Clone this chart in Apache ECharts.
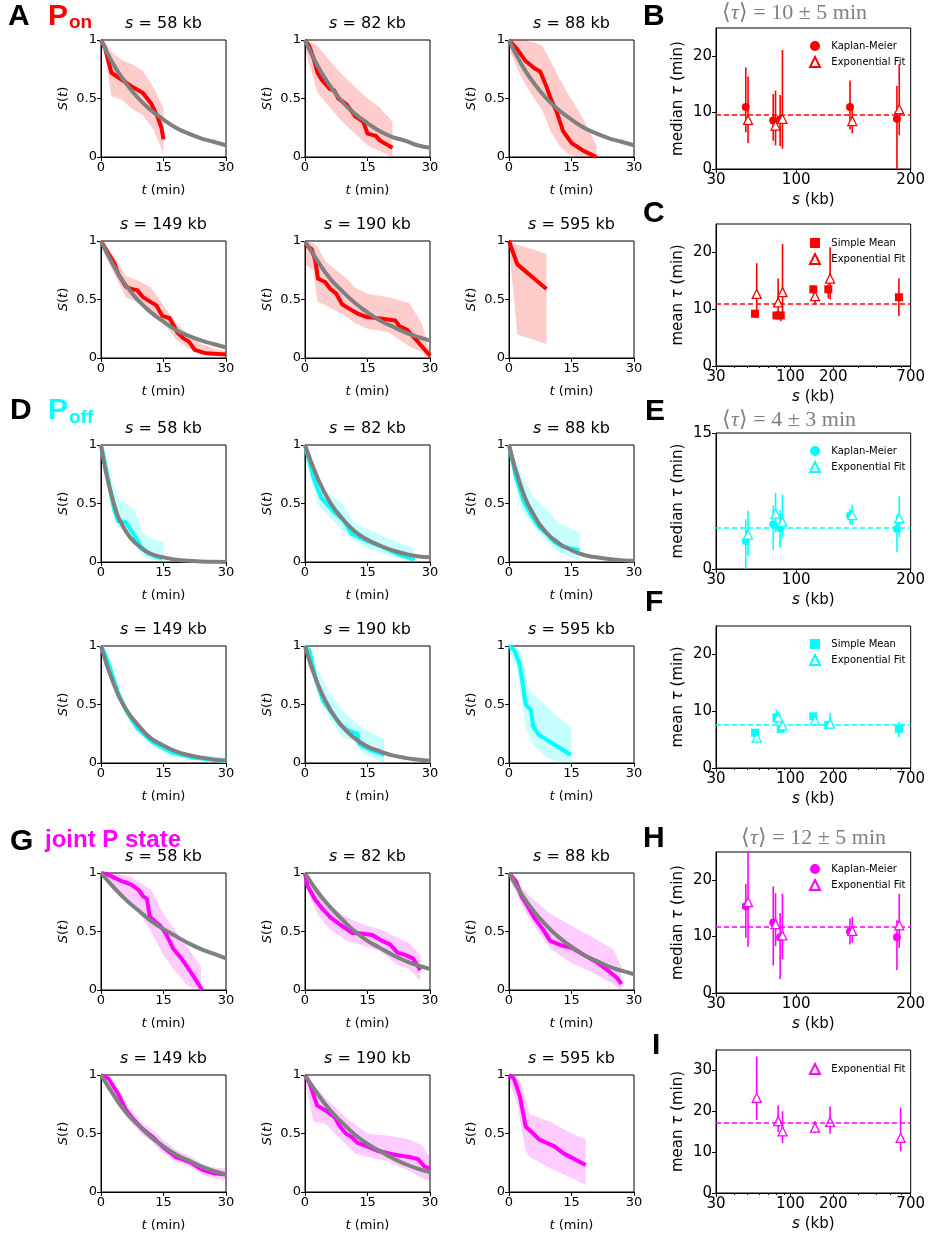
<!DOCTYPE html>
<html>
<head>
<meta charset="utf-8">
<script src="https://cdn.jsdelivr.net/npm/echarts@6/dist/echarts.min.js"></script>
<style>
  html, body { margin: 0; padding: 0; background: #fff; }
  #chart { width: 928px; height: 1241px; }
</style>
</head>
<body>
<div id="chart"></div>
<script>
// ---- survival curves: KM [t, S], CI band [t, lo, hi], exponential fit S at fitT ----
const fitT = [0, 3, 6, 9, 12, 15, 18, 21, 24, 27, 30];

// P on
const onKm58 = [[0,1],[1,0.93],[2.5,0.72],[5,0.66],[7.5,0.6],[10,0.55],[12,0.46],[13.5,0.35],[14.5,0.25],[15,0.15]];
const onBand58 = [[0,1,1],[1,0.85,0.98],[2.5,0.52,0.9],[5,0.49,0.83],[7.5,0.41,0.79],[10,0.36,0.74],[12.5,0.24,0.6],[15,0.03,0.42]];
const onFit58 = [1,0.79,0.63,0.5,0.4,0.32,0.25,0.2,0.16,0.13,0.1];

const onKm82 = [[0,1],[1,0.95],[2,0.85],[3,0.72],[4,0.66],[6,0.58],[7,0.57],[8,0.5],[10,0.45],[12,0.35],[14,0.3],[15,0.2],[17,0.18],[18,0.14],[21,0.08]];
const onBand82 = [[0,0.92,1],[3,0.55,0.95],[6,0.42,0.82],[9,0.3,0.7],[12,0.2,0.6],[15,0.1,0.5],[18,0.05,0.42],[21,0,0.3]];
const onFit82 = [1,0.78,0.61,0.47,0.37,0.29,0.22,0.17,0.14,0.1,0.08];

const onKm88 = [[0,1],[2,0.92],[4,0.82],[6,0.76],[7.5,0.73],[9,0.6],[10,0.5],[11.5,0.38],[13,0.22],[15,0.12],[18,0.05],[21,0]];
const onBand88 = [[0,0.92,1],[3,0.68,1],[6,0.5,0.98],[8,0.4,0.95],[10,0.22,0.82],[12,0.1,0.68],[14,0.03,0.55],[17,0,0.38],[21,0,0.1]];
const onFit88 = [1,0.79,0.63,0.5,0.4,0.32,0.25,0.2,0.16,0.13,0.1];

const onKm149 = [[0,1],[1.8,0.89],[3.2,0.81],[4.1,0.72],[6,0.61],[7.3,0.59],[8.7,0.58],[10.1,0.52],[11.9,0.48],[13.3,0.45],[14.7,0.36],[16.5,0.34],[18.3,0.22],[19.7,0.17],[21.1,0.14],[22.5,0.07],[25.2,0.04],[30,0.03]];
const onBand149 = [[0,0.95,1],[3,0.73,0.88],[6,0.52,0.7],[9,0.47,0.66],[12,0.38,0.6],[15,0.3,0.45],[18,0.16,0.3],[21,0.08,0.2],[24,0.03,0.12],[27,0.02,0.08],[30,0.02,0.06]];
const onFit149 = [1,0.79,0.62,0.49,0.39,0.31,0.24,0.19,0.15,0.12,0.09];

const onKm190 = [[0,0.97],[1.6,0.93],[2.5,0.83],[3.1,0.68],[4.8,0.65],[6.1,0.59],[7.5,0.55],[8.9,0.46],[10.7,0.42],[12.6,0.38],[14.9,0.35],[17.6,0.34],[21.7,0.32],[22.7,0.27],[24.5,0.24],[26.8,0.15],[30,0.02]];
const onBand190 = [[0,0.8,1],[2,0.75,0.98],[3,0.48,0.95],[5,0.45,0.82],[10,0.35,0.68],[12,0.3,0.6],[15,0.25,0.55],[20,0.22,0.52],[25,0.1,0.47],[28,0.05,0.3],[30,0,0.05]];
const onFit190 = [1,0.83,0.68,0.57,0.47,0.39,0.32,0.27,0.22,0.18,0.15];

const onKm595 = [[0,1],[2,0.8],[9,0.59]];
const onBand595 = [[0,0.96,1],[2,0.2,0.97],[9,0.12,0.89]];

// P off
const offKm58 = [[0,1],[0.9,0.86],[1.8,0.69],[3.2,0.44],[4.1,0.35],[6,0.34],[7.8,0.24],[9.6,0.13],[11.5,0.07],[14.7,0.03]];
const offBand58 = [[0,0.95,1],[2,0.55,0.75],[4,0.3,0.55],[6,0.25,0.5],[8,0.15,0.45],[10,0.05,0.25],[12,0.02,0.2],[15,0,0.17]];
const offFit58 = [1,0.51,0.26,0.14,0.07,0.04,0.02,0.01,0.005,0.002,0.001];

const offKm82 = [[0,1],[2,0.72],[3.9,0.55],[6.6,0.44],[9.4,0.35],[11.2,0.24],[14.9,0.18],[18.5,0.13],[22.2,0.07],[26.3,0.02]];
const offBand82 = [[0,1,1],[3,0.5,0.7],[6,0.38,0.57],[9,0.27,0.5],[12,0.18,0.33],[15,0.12,0.28],[20,0.06,0.2],[26,0,0.12]];
const offFit82 = [1,0.72,0.51,0.37,0.26,0.19,0.14,0.1,0.07,0.05,0.04];

const offKm88 = [[0,1],[1.7,0.72],[3.5,0.52],[5.3,0.4],[7.2,0.3],[9.1,0.24],[10.9,0.17],[12.8,0.13],[16.9,0.1]];
const offBand88 = [[0,0.9,1],[3,0.45,0.75],[6,0.3,0.55],[9,0.18,0.45],[12,0.08,0.33],[17,0.02,0.25]];
const offFit88 = [1,0.63,0.4,0.25,0.16,0.1,0.06,0.04,0.025,0.016,0.01];

const offKm149 = [[0,1],[1,0.93],[2.3,0.8],[4.1,0.6],[6,0.45],[8.7,0.3],[12.4,0.18],[17,0.09],[21.6,0.05],[30,0.015]];
const offBand149 = [[0,0.97,1],[2.3,0.76,0.84],[4.1,0.56,0.64],[6,0.41,0.49],[8.7,0.26,0.34],[12.4,0.14,0.22],[17,0.06,0.12],[21.6,0.03,0.08],[30,0,0.05]];
const offFit149 = [1,0.68,0.46,0.32,0.21,0.15,0.1,0.068,0.046,0.031,0.021];

const offKm190 = [[0,1],[1.1,0.96],[2.5,0.73],[4.3,0.53],[6.6,0.42],[8.4,0.33],[10.3,0.28],[12.6,0.25],[13,0.16],[15.8,0.11],[19,0.07]];
const offBand190 = [[0,0.95,1],[3,0.62,0.8],[6,0.38,0.6],[9,0.22,0.45],[12,0.18,0.35],[14,0.08,0.3],[19,0,0.2]];
const offFit190 = [1,0.68,0.46,0.31,0.21,0.14,0.1,0.065,0.044,0.03,0.02];

const offKm595 = [[0,1],[1.2,0.97],[2.6,0.84],[4,0.5],[5.3,0.45],[5.8,0.31],[7.2,0.24],[9.9,0.18],[14.8,0.07]];
const offBand595 = [[0,0.95,1],[2,0.8,0.97],[3,0.55,0.95],[4,0.3,0.75],[5,0.22,0.62],[6,0.15,0.58],[8,0.08,0.52],[10,0.03,0.45],[15,0,0.3]];

// joint P state
const jointKm58 = [[0,1],[1.4,0.99],[3.2,0.96],[5,0.93],[7.3,0.9],[9.2,0.85],[10.1,0.8],[11,0.78],[11.7,0.63],[12.8,0.59],[14.2,0.55],[15.6,0.48],[17.4,0.35],[19.3,0.27],[21.6,0.15],[24.3,0]];
const jointBand58 = [[0,0.98,1],[3,0.85,1],[7,0.73,0.97],[10,0.62,0.9],[12,0.5,0.86],[15,0.3,0.65],[18,0.15,0.5],[21,0.03,0.35],[24,0,0.2]];
const jointFit58 = [1,0.88,0.77,0.68,0.59,0.52,0.46,0.4,0.35,0.31,0.27];

const jointKm82 = [[0,1],[0.6,0.89],[2.5,0.77],[4.3,0.69],[6.1,0.62],[8.4,0.56],[11.2,0.49],[14,0.48],[16.2,0.47],[18.5,0.42],[20.4,0.39],[22.2,0.32],[24,0.3],[25.9,0.27],[27.7,0.17]];
const jointBand82 = [[0,0.9,1],[3,0.65,0.85],[6,0.52,0.72],[10,0.42,0.62],[14,0.38,0.56],[18,0.33,0.52],[22,0.22,0.45],[25,0.18,0.4],[27.7,0.08,0.3]];
const jointFit82 = [1,0.84,0.71,0.6,0.5,0.42,0.36,0.3,0.25,0.21,0.18];

const jointKm88 = [[0,1],[1.7,0.93],[3,0.8],[4.4,0.72],[6.2,0.61],[8.1,0.52],[9.9,0.42],[12.7,0.38],[15,0.36],[18,0.3],[21,0.24],[24,0.16],[26,0.1],[27,0.05]];
const jointBand88 = [[0,0.95,1],[5,0.6,0.8],[10,0.35,0.65],[15,0.23,0.55],[20,0.15,0.45],[25,0.05,0.35],[27,0,0.2]];
const jointFit88 = [1,0.82,0.67,0.55,0.45,0.37,0.3,0.25,0.2,0.165,0.135];

const jointKm149 = [[0,1],[1.8,0.97],[4.1,0.84],[6,0.7],[7.8,0.62],[9.6,0.55],[12.4,0.47],[14.7,0.39],[17.9,0.3],[21.6,0.25],[24.3,0.19],[27.1,0.16],[30,0.15]];
const jointBand149 = [[0,0.97,1],[4,0.8,0.88],[6,0.65,0.75],[9.6,0.5,0.6],[12.4,0.42,0.53],[14.7,0.34,0.45],[18,0.26,0.36],[21.6,0.21,0.3],[24.3,0.15,0.24],[27,0.12,0.21],[30,0.1,0.2]];
const jointFit149 = [1,0.83,0.68,0.57,0.47,0.39,0.32,0.27,0.22,0.18,0.15];

const jointKm190 = [[0,1],[1.1,0.93],[2.9,0.74],[4.8,0.7],[7.1,0.64],[8.4,0.56],[9.8,0.5],[11.2,0.47],[12.6,0.42],[14.9,0.39],[17.6,0.35],[21.3,0.32],[25,0.3],[27.2,0.28],[28.6,0.22],[30,0.2]];
const jointBand190 = [[0,0.95,1],[2,0.6,0.92],[5,0.58,0.8],[10,0.4,0.63],[12,0.33,0.58],[15,0.3,0.5],[20,0.26,0.48],[25,0.18,0.45],[28,0.12,0.4],[30,0.1,0.3]];
const jointFit190 = [1,0.84,0.7,0.59,0.49,0.41,0.35,0.29,0.24,0.2,0.17];

const jointKm595 = [[0,1],[1.2,0.97],[2.6,0.82],[4,0.56],[5.8,0.5],[7.2,0.45],[10.9,0.39],[13.1,0.33],[18.4,0.23]];
const jointBand595 = [[0,0.95,1],[2,0.75,0.97],[3,0.55,0.93],[4,0.35,0.8],[5,0.3,0.66],[10,0.2,0.6],[15,0.12,0.5],[18.4,0.06,0.45]];

// ---- tau vs size: [value, lo, hi] ----
const sizesMedian = [58, 82, 88, 149, 190];
const sizesMean = [58, 82, 88, 149, 190, 595];

const onMedKm = [[11.0,6.5,18.0],[8.6,5.0,13.3],[8.8,4.1,13.1],[11.0,7.0,15.7],[8.9,0,14.7]];
const onMedExp = [[8.7,4.6,16.4],[7.7,4.2,13.9],[8.9,3.6,21.1],[8.5,6.3,11.0],[10.6,6.0,18.6]];
const onMedAvg = 9.7;
const onMeanSimple = [[9.2,8.5,9.9],[8.9,8.2,9.6],[8.9,7.9,9.4],[13.5,12.7,14.2],[13.5,11.9,14.4],[12.1,8.8,15.4]];
const onMeanExp = [[12.7,8.5,18.1],[11.2,8.5,15.4],[13.0,9.1,21.5],[12.3,10.8,13.5],[15.4,11.7,20.9]];
const onMeanAvg = 11.0;

const offMedKm = [[3.1,0,5.5],[4.9,2.1,7.0],[4.5,2.4,6.5],[5.9,4.9,6.6],[4.4,1.9,6.0]];
const offMedExp = [[3.8,1.5,6.4],[6.1,4.0,8.4],[5.2,3.5,8.2],[5.95,4.9,7.1],[5.6,3.5,8.0]];
const offMedAvg = 4.6;
const offMeanSimple = [[6.2,5.5,6.9],[8.9,7.8,10.3],[6.9,6.3,7.5],[9.1,8.5,9.7],[7.6,7.1,8.2],[6.9,5.4,8.1]];
const offMeanExp = [[5.35,4.6,6.1],[8.9,8.0,9.9],[7.5,6.9,8.2],[8.4,7.9,9.0],[7.8,6.9,9.7]];
const offMeanAvg = 7.65;

const jointMedKm = [[15.4,9.8,19.3],[12.5,4.9,18.9],[9.9,2.5,14.2],[10.9,8.6,13.2],[9.9,4.1,12.9]];
const jointMedExp = [[16.1,8.2,25],[12.2,8.3,17.7],[10.2,6.0,17.6],[11.0,8.9,13.5],[12.0,8.0,17.6]];
const jointMedAvg = 11.8;
const jointMeanExp = [[23.3,17.9,33.4],[17.6,14.9,21.4],[15.1,12.2,20.0],[16.0,14.7,17.6],[17.4,14.5,21.2],[13.5,10.2,20.9]];
const jointMeanAvg = 17.2;

// tick labels
const survXTicks = [0, 15, 30];
const survYTicks = [0, 0.5, 1];
const linSizeTicks = [30, 100, 200];
const logSizeTicks = [30, 100, 200, 700];
const logMinorTicks = [40, 50, 60, 70, 80, 90, 300, 400, 500, 600];

// ---- layout / style ----
const FONT = 'DejaVu Sans';
const LABEL_FONT = 'Liberation Sans';
const colors = {
  red: { line: '#ff0000', band: 'rgba(255,0,0,0.2)' },
  cyan: { line: '#00ffff', band: 'rgba(0,255,255,0.22)' },
  magenta: { line: '#ff00ff', band: 'rgba(255,0,255,0.2)' }
};
const colLeft = [101, 305, 509];
const rowTop = [40, 241, 445, 646, 873, 1075];

const survPanels = [
  { row: 0, col: 0, s: 58, c: 'red', km: onKm58, band: onBand58, fit: onFit58 },
  { row: 0, col: 1, s: 82, c: 'red', km: onKm82, band: onBand82, fit: onFit82 },
  { row: 0, col: 2, s: 88, c: 'red', km: onKm88, band: onBand88, fit: onFit88 },
  { row: 1, col: 0, s: 149, c: 'red', km: onKm149, band: onBand149, fit: onFit149 },
  { row: 1, col: 1, s: 190, c: 'red', km: onKm190, band: onBand190, fit: onFit190 },
  { row: 1, col: 2, s: 595, c: 'red', km: onKm595, band: onBand595 },
  { row: 2, col: 0, s: 58, c: 'cyan', km: offKm58, band: offBand58, fit: offFit58 },
  { row: 2, col: 1, s: 82, c: 'cyan', km: offKm82, band: offBand82, fit: offFit82 },
  { row: 2, col: 2, s: 88, c: 'cyan', km: offKm88, band: offBand88, fit: offFit88 },
  { row: 3, col: 0, s: 149, c: 'cyan', km: offKm149, band: offBand149, fit: offFit149 },
  { row: 3, col: 1, s: 190, c: 'cyan', km: offKm190, band: offBand190, fit: offFit190 },
  { row: 3, col: 2, s: 595, c: 'cyan', km: offKm595, band: offBand595 },
  { row: 4, col: 0, s: 58, c: 'magenta', km: jointKm58, band: jointBand58, fit: jointFit58 },
  { row: 4, col: 1, s: 82, c: 'magenta', km: jointKm82, band: jointBand82, fit: jointFit82 },
  { row: 4, col: 2, s: 88, c: 'magenta', km: jointKm88, band: jointBand88, fit: jointFit88 },
  { row: 5, col: 0, s: 149, c: 'magenta', km: jointKm149, band: jointBand149, fit: jointFit149 },
  { row: 5, col: 1, s: 190, c: 'magenta', km: jointKm190, band: jointBand190, fit: jointFit190 },
  { row: 5, col: 2, s: 595, c: 'magenta', km: jointKm595, band: jointBand595 }
];

const scatterPanels = [
  { top: 28, height: 141, log: false, yMax: 25, yTicks: [0, 10, 20], yName: 'median', c: 'red', avg: onMedAvg, legendTop: 36,
    marks: [{ name: 'Kaplan-Meier', vals: onMedKm, sizes: sizesMedian, sym: 'circle', shift: true },
            { name: 'Exponential Fit', vals: onMedExp, sizes: sizesMedian, sym: 'triangle', open: true }] },
  { top: 224, height: 142, log: true, yMax: 25, yTicks: [0, 10, 20], yName: 'mean', c: 'red', avg: onMeanAvg, legendTop: 233,
    marks: [{ name: 'Simple Mean', vals: onMeanSimple, sizes: sizesMean, sym: 'rect', shift: true },
            { name: 'Exponential Fit', vals: onMeanExp, sizes: sizesMean, sym: 'triangle', open: true }] },
  { top: 433, height: 136, log: false, yMax: 15, yTicks: [0, 15], yName: 'median', c: 'cyan', avg: offMedAvg, legendTop: 441,
    marks: [{ name: 'Kaplan-Meier', vals: offMedKm, sizes: sizesMedian, sym: 'circle', shift: true },
            { name: 'Exponential Fit', vals: offMedExp, sizes: sizesMedian, sym: 'triangle', open: true }] },
  { top: 626, height: 142, log: true, yMax: 25, yTicks: [0, 10, 20], yName: 'mean', c: 'cyan', avg: offMeanAvg, legendTop: 634,
    marks: [{ name: 'Simple Mean', vals: offMeanSimple, sizes: sizesMean, sym: 'rect', shift: true },
            { name: 'Exponential Fit', vals: offMeanExp, sizes: sizesMean, sym: 'triangle', open: true }] },
  { top: 852, height: 141, log: false, yMax: 25, yTicks: [0, 10, 20], yName: 'median', c: 'magenta', avg: jointMedAvg, legendTop: 859,
    marks: [{ name: 'Kaplan-Meier', vals: jointMedKm, sizes: sizesMedian, sym: 'circle', shift: true },
            { name: 'Exponential Fit', vals: jointMedExp, sizes: sizesMedian, sym: 'triangle', open: true }] },
  { top: 1050, height: 143, log: true, yMax: 35, yTicks: [0, 10, 20, 30], yName: 'mean', c: 'magenta', avg: jointMeanAvg, legendTop: 1058,
    marks: [{ name: 'Exponential Fit', vals: jointMeanExp, sizes: sizesMean, sym: 'triangle', open: true }] }
];

const grids = [], xAxes = [], yAxes = [], series = [], legends = [], graphics = [];
const italic = size => ({ fontStyle: 'italic', fontSize: size, fontFamily: FONT, color: '#000' });

function axisBase(ticks, fontSize) {
  return {
    type: 'value',
    splitLine: { show: false },
    axisLine: { lineStyle: { color: '#000', width: 1 } },
    axisTick: { customValues: ticks, length: 4, lineStyle: { color: '#000' } },
    axisLabel: { customValues: ticks, fontSize: fontSize, fontFamily: FONT, color: '#000', margin: 4 }
  };
}

// survival panels
survPanels.forEach(p => {
  const gi = grids.length;
  const left = colLeft[p.col], top = rowTop[p.row];
  const col = colors[p.c];
  grids.push({ left: left, top: top, width: 125, height: 117, show: true, borderColor: '#000', borderWidth: 1 });
  xAxes.push(Object.assign(axisBase(survXTicks, 13), {
    gridIndex: gi, min: 0, max: 30,
    name: '{i|t} (min)', nameLocation: 'middle', nameGap: 27,
    nameTextStyle: { fontSize: 13, fontFamily: FONT, color: '#000', rich: { i: italic(13) } }
  }));
  yAxes.push(Object.assign(axisBase(survYTicks, 13), {
    gridIndex: gi, min: 0, max: 1,
    name: '{i|S}({i|t})', nameLocation: 'middle', nameGap: 31,
    nameTextStyle: { fontSize: 13, fontFamily: FONT, color: '#000', rich: { i: italic(13) } }
  }));
  const band = p.band;
  series.push({
    type: 'custom', xAxisIndex: gi, yAxisIndex: gi, silent: true, z: 1,
    data: band, encode: { x: 0, y: [1, 2] },
    renderItem: (params, api) => {
      if (params.dataIndex !== 0) return null;
      const upper = band.map(d => api.coord([d[0], d[2]]));
      const lower = band.map(d => api.coord([d[0], d[1]])).reverse();
      return { type: 'polygon', shape: { points: upper.concat(lower) }, style: { fill: col.band } };
    }
  });
  series.push({
    type: 'line', xAxisIndex: gi, yAxisIndex: gi, data: p.km, showSymbol: false, silent: true, z: 2,
    lineStyle: { color: col.line, width: 4, join: 'round' }, itemStyle: { color: col.line }
  });
  if (p.fit) {
    series.push({
      type: 'line', xAxisIndex: gi, yAxisIndex: gi, data: fitT.map((t, i) => [t, p.fit[i]]),
      showSymbol: false, silent: true, z: 3, smooth: 0.5,
      lineStyle: { color: '#808080', width: 4 }, itemStyle: { color: '#808080' }
    });
  }
  graphics.push({
    type: 'text', x: left + 62.5, y: top - 16, silent: true,
    style: {
      text: '{i|s} = ' + p.s + ' kb', rich: { i: italic(16) },
      fontSize: 16, fontFamily: FONT, fill: '#000',
      align: 'center', verticalAlign: 'middle', textAlign: 'center', textVerticalAlign: 'middle'
    }
  });
});

// tau vs size panels
const usedNames = {};
function uniqueName(n) {
  usedNames[n] = (usedNames[n] || 0) + 1;
  return n + ' '.repeat(usedNames[n] - 1);
}

scatterPanels.forEach(p => {
  const gi = grids.length;
  const col = colors[p.c].line;
  const tx = p.log ? (v => Math.log10(v)) : (v => v);
  const xTicks = (p.log ? logSizeTicks : linSizeTicks).map(tx);
  const xMin = tx(30), xMax = tx(p.log ? 700 : 200);
  grids.push({ left: 716, top: p.top, width: 196, height: p.height, show: true, borderColor: '#000', borderWidth: 1 });
  const xa = axisBase(xTicks, 15);
  xa.axisLabel.formatter = v => String(Math.round(p.log ? Math.pow(10, v) : v));
  xAxes.push(Object.assign(xa, {
    gridIndex: gi, min: xMin, max: xMax,
    name: '{i|s} (kb)', nameLocation: 'middle', nameGap: 24,
    nameTextStyle: { fontSize: 15, fontFamily: FONT, color: '#000', rich: { i: italic(15) } }
  }));
  const xIndex = xAxes.length - 1;
  if (p.log) {
    xAxes.push({
      gridIndex: gi, type: 'value', min: xMin, max: xMax, position: 'bottom',
      axisLine: { show: false }, axisLabel: { show: false }, splitLine: { show: false },
      axisTick: { customValues: logMinorTicks.map(tx), length: 2, lineStyle: { color: '#000' } }
    });
  }
  yAxes.push(Object.assign(axisBase(p.yTicks, 15), {
    gridIndex: gi, min: 0, max: p.yMax,
    name: p.yName + ' {i|τ} (min)', nameLocation: 'middle', nameGap: 30,
    nameTextStyle: { fontSize: 15, fontFamily: FONT, color: '#000', rich: { i: italic(15) } }
  }));
  const legendNames = [];
  p.marks.forEach((m, mi) => {
    const xs = m.vals.map((v, i) => {
      const s = m.sizes[i];
      if (!m.shift) return tx(s);
      return p.log ? tx(s * 0.972) : s - 2;
    });
    series.push({
      type: 'custom', xAxisIndex: xIndex, yAxisIndex: gi, silent: true, z: 3, clip: true,
      data: m.vals.map((v, i) => [xs[i], v[1], v[2]]),
      renderItem: (params, api) => {
        const a = api.coord([api.value(0), api.value(1)]);
        const b = api.coord([api.value(0), api.value(2)]);
        return { type: 'line', shape: { x1: a[0], y1: a[1], x2: b[0], y2: b[1] }, style: { stroke: col, lineWidth: 1.6 } };
      }
    });
    const name = uniqueName(m.name);
    legendNames.push(name);
    const sc = {
      type: 'scatter', name: name, xAxisIndex: xIndex, yAxisIndex: gi, z: 4 + mi,
      data: m.vals.map((v, i) => [xs[i], v[0]]),
      symbol: m.sym, symbolSize: m.sym === 'triangle' ? 9 : 8,
      itemStyle: m.open ? { color: '#fff', borderColor: col, borderWidth: 1.3, opacity: 1 } : { color: col, opacity: 1 }
    };
    if (mi === 0) {
      sc.markLine = {
        silent: true, symbol: 'none', label: { show: false }, animation: false,
        lineStyle: { color: col, type: [5, 3], width: 1.5 },
        data: [{ yAxis: p.avg }]
      };
    }
    series.push(sc);
  });
  legends.push({
    orient: 'vertical', left: 804, top: p.legendTop, itemWidth: 10, itemHeight: 10, itemGap: 5,
    selectedMode: false, data: legendNames, formatter: n => '  ' + n.trim(),
    textStyle: { fontSize: 10, fontFamily: FONT, color: '#000' }
  });
});

// panel letters and headings
function label(x, y, text, size, color, family, extra) {
  graphics.push({
    type: 'text', x: x, y: y, silent: true,
    style: Object.assign({
      text: text, fontSize: size, fontWeight: 'bold', fontFamily: family || LABEL_FONT, fill: color || '#000',
      align: 'left', verticalAlign: 'middle', textAlign: 'left', textVerticalAlign: 'middle'
    }, extra || {})
  });
}
label(8, 17, 'A', 30);
label(48, 17, 'P', 30, '#ff0000');
label(69, 23, 'on', 19, '#ff0000');
label(643, 17, 'B', 30);
label(643, 214, 'C', 30);
label(10, 411, 'D', 30);
label(48, 411, 'P', 30, '#00ffff');
label(69, 418, 'off', 19, '#00ffff');
label(645, 412, 'E', 30);
label(645, 603, 'F', 30);
label(10, 842, 'G', 30);
label(45, 840, 'joint P state', 24, '#ff00ff');
label(643, 839, 'H', 30);
label(652, 1046, 'I', 30);

const tauStyle = { fontWeight: 'normal', rich: { i: { fontStyle: 'italic', fontSize: 22, fontFamily: 'Liberation Serif', color: '#808080' } } };
label(722, 13, '⟨{i|τ}⟩ = 10 ± 5 min', 22, '#808080', 'Liberation Serif', tauStyle);
label(722, 420, '⟨{i|τ}⟩ = 4 ± 3 min', 22, '#808080', 'Liberation Serif', tauStyle);
label(741, 838, '⟨{i|τ}⟩ = 12 ± 5 min', 22, '#808080', 'Liberation Serif', tauStyle);

const chart = echarts.init(document.getElementById('chart'));
chart.setOption({
  animation: false,
  backgroundColor: '#fff',
  grid: grids,
  xAxis: xAxes,
  yAxis: yAxes,
  legend: legends,
  series: series,
  graphic: graphics
});
</script>
</body>
</html>
